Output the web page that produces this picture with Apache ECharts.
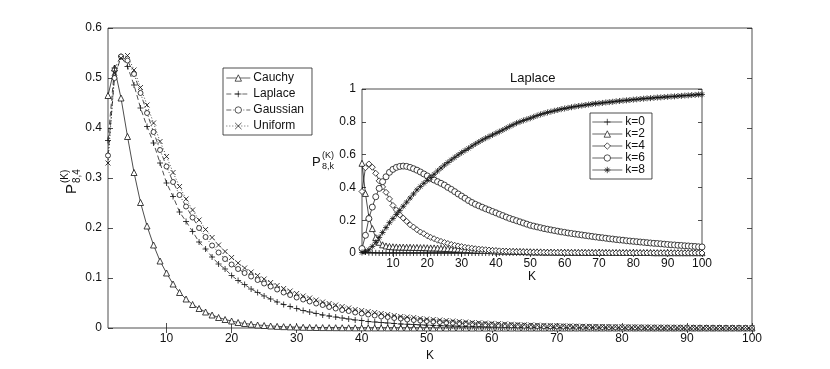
<!DOCTYPE html>
<html>
<head>
<meta charset="utf-8">
<script src="https://cdn.jsdelivr.net/npm/echarts@6/dist/echarts.min.js"></script>
<style>html,body{margin:0;background:#fff}#main{width:830px;height:369px}</style>
</head>
<body>
<div id="main"></div>
<script>
// main plot: P_{8,4}^{(K)} for four noise models, K = 1..100
var cauchy = [
  0.465, 0.52, 0.46, 0.383, 0.311, 0.251, 0.204, 0.166, 0.134, 0.11,
  0.088, 0.071, 0.058, 0.047, 0.039, 0.032, 0.026, 0.021, 0.017, 0.014,
  0.011, 0.009, 0.0075, 0.006, 0.005, 0.004, 0.0033, 0.0027, 0.0022, 0.0018,
  0.0015, 0.0012, 0.001, 0.0008, 0.0007, 0.0006, 0.0005, 0.0004, 0.0003, 0.0003,
  0.0002, 0.0002, 0.0002, 0.0002, 0.0002, 0.0001, 0.0001, 0.0001, 0.0001, 0.0001,
  0, 0, 0, 0, 0, 0, 0, 0, 0, 0,
  0, 0, 0, 0, 0, 0, 0, 0, 0, 0,
  0, 0, 0, 0, 0, 0, 0, 0, 0, 0,
  0, 0, 0, 0, 0, 0, 0, 0, 0, 0,
  0, 0, 0, 0, 0, 0, 0, 0, 0, 0
];
var laplace = [
  0.375, 0.52, 0.543, 0.523, 0.486, 0.44, 0.403, 0.37, 0.33, 0.29,
  0.263, 0.232, 0.213, 0.193, 0.172, 0.158, 0.142, 0.128, 0.118, 0.105,
  0.095, 0.087, 0.078, 0.071, 0.064, 0.058, 0.052, 0.047, 0.043, 0.039,
  0.035, 0.032, 0.029, 0.026, 0.024, 0.022, 0.02, 0.018, 0.016, 0.015,
  0.013, 0.012, 0.011, 0.01, 0.009, 0.008, 0.0075, 0.007, 0.0063, 0.0057,
  0.0052, 0.0047, 0.0043, 0.0039, 0.0035, 0.0032, 0.0029, 0.0026, 0.0024, 0.0022,
  0.002, 0.0018, 0.0016, 0.0015, 0.0014, 0.0012, 0.0011, 0.001, 0.0009, 0.0008,
  0.0008, 0.0007, 0.0007, 0.0006, 0.0006, 0.0005, 0.0005, 0.0004, 0.0004, 0.0004,
  0.0003, 0.0003, 0.0003, 0.0003, 0.0003, 0.0002, 0.0002, 0.0002, 0.0002, 0.0002,
  0.0002, 0.0002, 0.0002, 0.0001, 0.0001, 0.0001, 0.0001, 0.0001, 0.0001, 0.0001
];
var gaussian = [
  0.345, 0.5, 0.543, 0.535, 0.508, 0.47, 0.43, 0.392, 0.356, 0.323,
  0.292, 0.266, 0.243, 0.221, 0.2, 0.182, 0.165, 0.151, 0.138, 0.127,
  0.118, 0.11, 0.103, 0.096, 0.089, 0.083, 0.077, 0.071, 0.066, 0.061,
  0.057, 0.053, 0.049, 0.046, 0.042, 0.039, 0.036, 0.034, 0.031, 0.029,
  0.027, 0.025, 0.023, 0.022, 0.02, 0.019, 0.017, 0.016, 0.015, 0.014,
  0.013, 0.012, 0.011, 0.0105, 0.0098, 0.009, 0.0084, 0.0078, 0.0072, 0.0067,
  0.0062, 0.0058, 0.0054, 0.005, 0.0046, 0.0043, 0.004, 0.0037, 0.0034, 0.0032,
  0.003, 0.0028, 0.0026, 0.0024, 0.0022, 0.002, 0.0019, 0.0018, 0.0016, 0.0015,
  0.0014, 0.0013, 0.0012, 0.0011, 0.001, 0.001, 0.0009, 0.0009, 0.0008, 0.0008,
  0.0007, 0.0007, 0.0006, 0.0006, 0.0006, 0.0005, 0.0005, 0.0005, 0.0004, 0.0004
];
var uniform = [
  0.33, 0.51, 0.54, 0.545, 0.516, 0.481, 0.446, 0.41, 0.373, 0.343,
  0.311, 0.283, 0.258, 0.236, 0.216, 0.197, 0.181, 0.166, 0.153, 0.141,
  0.13, 0.12, 0.112, 0.105, 0.098, 0.091, 0.085, 0.079, 0.074, 0.069,
  0.064, 0.06, 0.056, 0.052, 0.049, 0.046, 0.043, 0.04, 0.037, 0.035,
  0.033, 0.031, 0.029, 0.027, 0.025, 0.023, 0.022, 0.021, 0.019, 0.018,
  0.017, 0.016, 0.015, 0.014, 0.013, 0.012, 0.011, 0.0105, 0.0098, 0.0092,
  0.0086, 0.008, 0.0075, 0.007, 0.0065, 0.006, 0.0056, 0.0052, 0.0049, 0.0046,
  0.0043, 0.004, 0.0037, 0.0035, 0.0033, 0.0031, 0.0029, 0.0027, 0.0025, 0.0023,
  0.0022, 0.0021, 0.002, 0.0019, 0.0018, 0.0017, 0.0016, 0.0015, 0.0014, 0.0013,
  0.0012, 0.0012, 0.0011, 0.0011, 0.001, 0.001, 0.0009, 0.0009, 0.0008, 0.0008
];

// inset: Laplace, P_{8,k}^{(K)} for k = 0,2,4,6,8 (k=4 is the Laplace curve above)
var lapK0 = [
  0.03, 0.006, 0.002, 0.001, 0.001, 0, 0, 0, 0, 0,
  0, 0, 0, 0, 0, 0, 0, 0, 0, 0,
  0, 0, 0, 0, 0, 0, 0, 0, 0, 0,
  0, 0, 0, 0, 0, 0, 0, 0, 0, 0,
  0, 0, 0, 0, 0, 0, 0, 0, 0, 0,
  0, 0, 0, 0, 0, 0, 0, 0, 0, 0,
  0, 0, 0, 0, 0, 0, 0, 0, 0, 0,
  0, 0, 0, 0, 0, 0, 0, 0, 0, 0,
  0, 0, 0, 0, 0, 0, 0, 0, 0, 0,
  0, 0, 0, 0, 0, 0, 0, 0, 0, 0
];
var lapK2 = [
  0.547, 0.363, 0.22, 0.149, 0.094, 0.065, 0.05, 0.043, 0.04, 0.038,
  0.037, 0.036, 0.036, 0.035, 0.035, 0.034, 0.034, 0.033, 0.033, 0.032,
  0.031, 0.031, 0.03, 0.029, 0.028, 0.027, 0.026, 0.025, 0.024, 0.023,
  0.022, 0.021, 0.02, 0.019, 0.018, 0.017, 0.016, 0.015, 0.014, 0.013,
  0.012, 0.012, 0.011, 0.011, 0.01, 0.01, 0.009, 0.009, 0.008, 0.008,
  0.007, 0.007, 0.007, 0.006, 0.006, 0.006, 0.005, 0.005, 0.005, 0.005,
  0.004, 0.004, 0.004, 0.004, 0.004, 0.004, 0.004, 0.004, 0.004, 0.004,
  0.004, 0.004, 0.003, 0.003, 0.003, 0.003, 0.003, 0.003, 0.003, 0.003,
  0.003, 0.003, 0.003, 0.003, 0.003, 0.002, 0.002, 0.002, 0.002, 0.002,
  0.002, 0.002, 0.002, 0.002, 0.002, 0.002, 0.002, 0.002, 0.002, 0.002
];
var lapK4 = laplace;
var lapK6 = [
  0.027, 0.108, 0.21, 0.28, 0.343, 0.394, 0.435, 0.465, 0.492, 0.51,
  0.522, 0.528, 0.53, 0.528, 0.522, 0.514, 0.505, 0.494, 0.482, 0.47,
  0.455, 0.445, 0.435, 0.425, 0.414, 0.4, 0.388, 0.374, 0.36, 0.347,
  0.334, 0.32, 0.308, 0.297, 0.288, 0.279, 0.27, 0.262, 0.253, 0.245,
  0.236, 0.228, 0.219, 0.211, 0.204, 0.197, 0.19, 0.183, 0.176, 0.169,
  0.164, 0.159, 0.154, 0.149, 0.145, 0.141, 0.137, 0.133, 0.129, 0.126,
  0.122, 0.119, 0.116, 0.113, 0.11, 0.107, 0.104, 0.101, 0.098, 0.095,
  0.093, 0.09, 0.087, 0.085, 0.082, 0.08, 0.078, 0.075, 0.073, 0.071,
  0.069, 0.067, 0.065, 0.063, 0.061, 0.059, 0.058, 0.056, 0.054, 0.052,
  0.05, 0.049, 0.047, 0.046, 0.044, 0.043, 0.041, 0.04, 0.038, 0.037
];
var lapK8 = [
  0.003, 0.008, 0.02, 0.04, 0.065, 0.095, 0.125, 0.155, 0.185, 0.21,
  0.235, 0.26, 0.285, 0.31, 0.335, 0.36, 0.385, 0.405, 0.425, 0.443,
  0.46, 0.48, 0.5, 0.518, 0.536, 0.552, 0.568, 0.583, 0.598, 0.612,
  0.625, 0.638, 0.652, 0.665, 0.677, 0.689, 0.7, 0.71, 0.72, 0.73,
  0.74, 0.75, 0.761, 0.772, 0.782, 0.792, 0.8, 0.808, 0.815, 0.822,
  0.83, 0.838, 0.845, 0.851, 0.857, 0.862, 0.867, 0.872, 0.877, 0.881,
  0.885, 0.889, 0.893, 0.896, 0.899, 0.902, 0.905, 0.908, 0.911, 0.913,
  0.915, 0.918, 0.92, 0.922, 0.925, 0.927, 0.929, 0.931, 0.933, 0.935,
  0.937, 0.939, 0.941, 0.943, 0.944, 0.946, 0.948, 0.949, 0.951, 0.952,
  0.954, 0.955, 0.957, 0.958, 0.96, 0.961, 0.963, 0.964, 0.966, 0.967
];

var xTicks = [10, 20, 30, 40, 50, 60, 70, 80, 90, 100];

var FONT = 'Liberation Sans';
var PLUS = 'path://M5,0L5,10M0,5L10,5';
var CROSS = 'path://M0,0L10,10M10,0L0,10';
var STAR = 'path://M5,0L5,10M0,5L10,5M1.6,1.6L8.4,8.4M8.4,1.6L1.6,8.4';
// open markers: white fill, thin black outline
var OPEN = { triangle: true, circle: true, diamond: true };

function pairs(arr) {
  return arr.map(function (v, i) { return [i + 1, v]; });
}

function markerStyle(symbol) {
  return OPEN[symbol]
    ? { color: '#fff', borderColor: '#111', borderWidth: 0.8 }
    : { color: '#111', borderColor: '#111', borderWidth: 0.8 };
}

function mk(name, arr, symbol, size, dash, inset) {
  return {
    name: name,
    type: 'line',
    xAxisIndex: inset ? 2 : 0,
    yAxisIndex: inset ? 2 : 0,
    z: inset ? 4 : 2,
    data: pairs(arr),
    symbol: symbol,
    symbolSize: size,
    showAllSymbol: true,
    lineStyle: { color: '#000', width: 0.7, type: dash },
    itemStyle: markerStyle(symbol),
    emphasis: { disabled: true }
  };
}

function xAx(grid, top, ticks) {
  return {
    type: 'value', gridIndex: grid, min: 1, max: 100,
    position: top ? 'top' : 'bottom',
    axisLine: { show: false },
    axisTick: { inside: true, length: grid === 0 ? 5 : 4, customValues: ticks,
      lineStyle: { color: '#222', width: 0.8 } },
    axisLabel: { show: !top, customValues: ticks, margin: 5,
      color: '#111', fontSize: 12, fontFamily: FONT },
    splitLine: { show: false },
    name: top ? '' : 'K', nameLocation: 'middle', nameGap: grid === 0 ? 21 : 17,
    nameTextStyle: { color: '#111', fontSize: 12, fontFamily: FONT }
  };
}

function yAx(grid, right, max, step) {
  return {
    type: 'value', gridIndex: grid, min: 0, max: max, interval: step,
    position: right ? 'right' : 'left',
    axisLine: { show: false },
    axisTick: { inside: true, length: grid === 0 ? 5 : 4,
      lineStyle: { color: '#222', width: 0.8 } },
    axisLabel: { show: !right, margin: 6, color: '#111', fontSize: 12, fontFamily: FONT },
    splitLine: { show: false }
  };
}

var legendCommon = {
  orient: 'vertical', selectedMode: false,
  borderColor: '#222', borderWidth: 0.8, backgroundColor: '#fff',
  itemHeight: 8,
  itemStyle: { borderWidth: 0.7 },
  lineStyle: { width: 0.6, color: '#000' }
};

var myChart = echarts.init(document.getElementById('main'));
var option = {
  animation: false,
  backgroundColor: '#fff',
  title: {
    text: 'Laplace', left: 510, top: 72, padding: 0,
    textStyle: { fontSize: 13, fontWeight: 'normal', color: '#111', fontFamily: FONT }
  },
  grid: [
    { left: 108, top: 28, width: 644, height: 300, show: true,
      borderColor: '#222', borderWidth: 0.8, backgroundColor: '#fff' },
    { left: 362, top: 89, width: 340, height: 164, show: true,
      borderColor: '#222', borderWidth: 0.8, backgroundColor: '#fff' }
  ],
  xAxis: [xAx(0, false, xTicks), xAx(0, true, xTicks), xAx(1, false, xTicks), xAx(1, true, xTicks)],
  yAxis: [yAx(0, false, 0.6, 0.1), yAx(0, true, 0.6, 0.1), yAx(1, false, 1, 0.2), yAx(1, true, 1, 0.2)],
  legend: [
    Object.assign({}, legendCommon, {
      data: ['Cauchy', 'Laplace', 'Gaussian', 'Uniform'],
      left: 223, top: 68, padding: [4, 8, 3, 3],
      itemWidth: 24, itemGap: 4,
      textStyle: { fontSize: 12, color: '#111', fontFamily: FONT, padding: [0, 0, 0, -2] } }),
    Object.assign({}, legendCommon, {
      data: ['k=0', 'k=2', 'k=4', 'k=6', 'k=8'],
      left: 590, top: 113, padding: [3, 7, 3, 2], z: 10,
      itemWidth: 30, itemGap: 0,
      textStyle: { fontSize: 12, color: '#111', fontFamily: FONT, padding: [0, 0, 0, -2] } })
  ],
  graphic: [
    { type: 'group', x: 72, y: 194, rotation: Math.PI / 2, children: [
      { type: 'text', x: 0, y: 0, style: { text: 'P', fontSize: 15, fill: '#111', fontFamily: FONT, verticalAlign: 'middle' } },
      { type: 'text', x: 11, y: -7, style: { text: '(K)', fontSize: 10, fill: '#111', fontFamily: FONT, verticalAlign: 'middle' } },
      { type: 'text', x: 11, y: 5, style: { text: '8,4', fontSize: 10, fill: '#111', fontFamily: FONT, verticalAlign: 'middle' } }
    ] },
    { type: 'group', x: 312, y: 162, children: [
      { type: 'text', x: 0, y: 0, style: { text: 'P', fontSize: 13, fill: '#111', fontFamily: FONT, verticalAlign: 'middle' } },
      { type: 'text', x: 10, y: -6, style: { text: '(K)', fontSize: 9, fill: '#111', fontFamily: FONT, verticalAlign: 'middle' } },
      { type: 'text', x: 10, y: 5, style: { text: '8,k', fontSize: 9, fill: '#111', fontFamily: FONT, verticalAlign: 'middle' } }
    ] }
  ],
  series: [
    mk('Cauchy', cauchy, 'triangle', 6, 'solid', false),
    mk('Laplace', laplace, PLUS, 6, [5, 3], false),
    mk('Gaussian', gaussian, 'circle', 5, [5, 2, 1, 2], false),
    mk('Uniform', uniform, CROSS, 5, [1, 2], false),
    mk('k=0', lapK0, PLUS, 6, 'solid', true),
    mk('k=2', lapK2, 'triangle', 6, 'solid', true),
    mk('k=4', lapK4, 'diamond', 6, 'solid', true),
    mk('k=6', lapK6, 'circle', 6, 'solid', true),
    mk('k=8', lapK8, STAR, 6, 'solid', true)
  ]
};
myChart.setOption(option);
</script>
</body>
</html>
